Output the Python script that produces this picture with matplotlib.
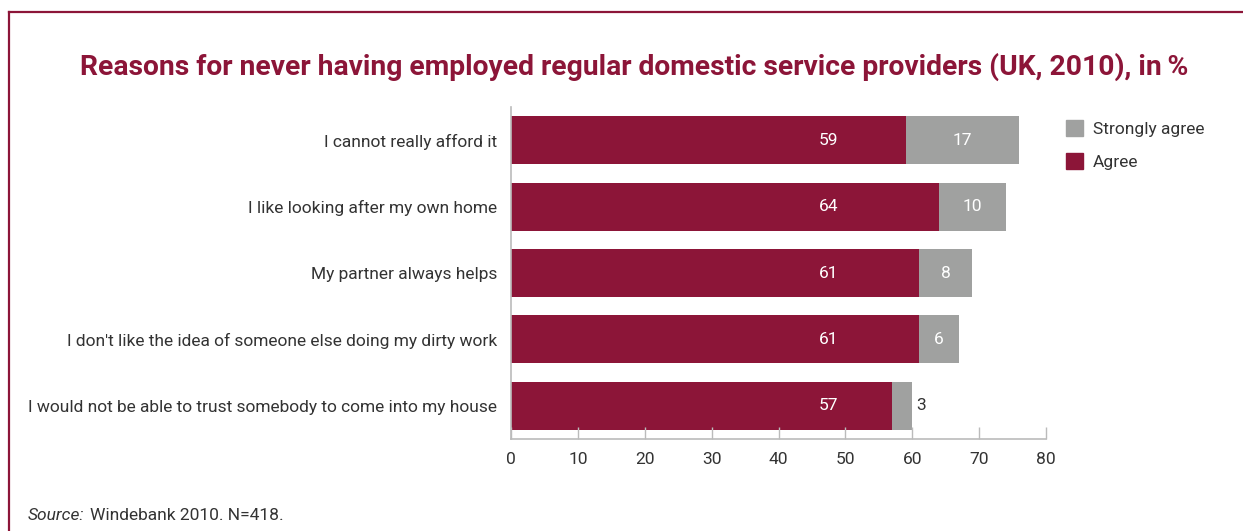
import matplotlib

matplotlib.use("Agg")
import matplotlib.pyplot as plt
from matplotlib.lines import Line2D
from matplotlib.patches import Patch

# values (UK, 2010, in %)
reasons = [
    "I cannot really afford it",
    "I like looking after my own home",
    "My partner always helps",
    "I don't like the idea of someone else doing my dirty work",
    "I would not be able to trust somebody to come into my house",
]
agree = [59, 64, 61, 61, 57]
strongly_agree = [17, 10, 8, 6, 3]
x_ticks = [0, 10, 20, 30, 40, 50, 60, 70, 80]

CRIMSON = "#8c1538"
GREY = "#a0a1a0"
TEXT = "#333333"
FS = 12.5

plt.rcParams["font.family"] = ["Roboto", "DejaVu Sans"]

fig = plt.figure(figsize=(12.43, 5.31), dpi=100)
ax = fig.add_axes([511 / 1243, 1 - 439 / 531, 535 / 1243, 332 / 531])

ypos = list(range(len(reasons)))
ax.barh(ypos, agree, height=0.72, color=CRIMSON, label="Agree")
ax.barh(ypos, strongly_agree, left=agree, height=0.72, color=GREY, label="Strongly agree")

for y, a, s in zip(ypos, agree, strongly_agree):
    ax.text(47.5, y, str(a), color="white", ha="center", va="center", fontsize=FS)
    if s >= 5:
        ax.text(a + s / 2, y, str(s), color="white", ha="center", va="center", fontsize=FS)
    else:
        ax.text(a + s + 0.6, y, str(s), color=TEXT, ha="left", va="center", fontsize=FS)

ax.set_xlim(0, 80)
ax.set_ylim(len(reasons) - 0.5, -0.5)
ax.set_yticks(ypos)
ax.set_yticklabels(reasons, fontsize=FS, color=TEXT)
ax.set_xticks(x_ticks)
ax.set_xticklabels([str(t) for t in x_ticks], fontsize=FS, color=TEXT)
ax.tick_params(axis="y", length=0, pad=10)
ax.tick_params(axis="x", direction="in", length=9, width=1, color="#bbbbbb", pad=9)
for side in ("top", "right"):
    ax.spines[side].set_visible(False)
for side in ("left", "bottom"):
    ax.spines[side].set_color("#bbbbbb")
    ax.spines[side].set_linewidth(1.2)

handles = [Patch(color=GREY, label="Strongly agree"), Patch(color=CRIMSON, label="Agree")]
fig.legend(
    handles=handles,
    loc="upper left",
    bbox_to_anchor=(1050 / 1243, 1 - 104 / 531),
    frameon=False,
    fontsize=FS,
    handlelength=1.0,
    handleheight=1.1,
    handletextpad=0.55,
    labelspacing=0.92,
    labelcolor=TEXT,
)

fig.text(80 / 1243, 1 - 67 / 531,
         "Reasons for never having employed regular domestic service providers (UK, 2010), in\u2009%",
         color=CRIMSON, fontsize=20.3, fontweight="bold", ha="left", va="center")

src = fig.text(28 / 1243, 1 - 515 / 531, "Source:", style="italic", fontsize=FS, color=TEXT,
               ha="left", va="center")
fig.canvas.draw()
bb = src.get_window_extent(renderer=fig.canvas.get_renderer())
fig.text((bb.x1 + 5) / 1243, 1 - 515 / 531, "Windebank 2010. N=418.", fontsize=FS, color=TEXT,
         ha="left", va="center")

# frame around the figure (top and left edges visible in the crop)
fig.add_artist(Line2D([9 / 1243, 9 / 1243], [0, 1 - 12 / 531], color=CRIMSON, lw=1.6))
fig.add_artist(Line2D([9 / 1243, 1], [1 - 12 / 531, 1 - 12 / 531], color=CRIMSON, lw=1.6))

fig.savefig("out.png", dpi=100)
